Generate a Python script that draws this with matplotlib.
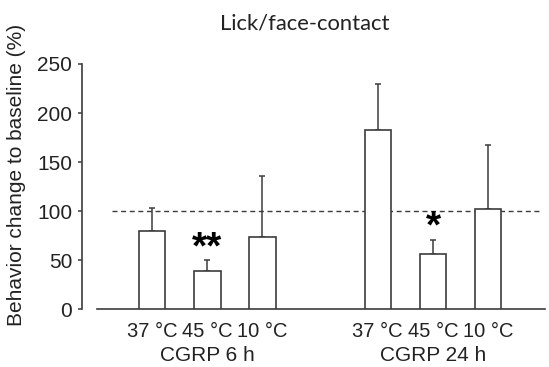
import matplotlib
matplotlib.use("Agg")
import matplotlib.pyplot as plt
import matplotlib.transforms as mtransforms
import numpy as np

plt.rcParams["font.family"] = ["Liberation Sans", "DejaVu Sans"]

# ---- data ----
conditions = ["37 °C", "45 °C", "10 °C", "37 °C", "45 °C", "10 °C"]
groups = ["CGRP 6 h", "CGRP 24 h"]
means = [80.1, 39.4, 73.7, 183.0, 56.7, 102.2]
upper_err = [23.5, 10.6, 62.1, 46.5, 14.0, 65.2]
stars = ["", "**", "", "", "*", ""]
baseline = 100
yticks = [0, 50, 100, 150, 200, 250]
title = "Lick/face-contact"
ylabel = "Behavior change to baseline (%)"

# ---- layout ----
W, H = 549, 367
fig = plt.figure(figsize=(W / 100, H / 100), dpi=100)
ax = fig.add_axes([82 / W, (H - 309.4) / H, (545 - 82) / W, (309.4 - 64.0) / H])

pos = np.array([0, 1, 2, 4.09, 5.09, 6.09])
line_c = "#3c3c3c"
txt_c = "#222222"

ax.plot([-0.72, 7.03], [baseline, baseline], color=line_c, lw=1.0,
        dashes=(3.6, 2.6), zorder=1)

ax.errorbar(pos, means, yerr=[np.zeros(len(means)), upper_err], fmt="none",
            ecolor=line_c, elinewidth=1.1, capsize=2.2, capthick=1.1, zorder=2)
ax.bar(pos, means, width=0.48, facecolor="white", edgecolor=line_c,
       linewidth=1.2, zorder=3)

for p, m, e, s in zip(pos, means, upper_err, stars):
    if s:
        ax.annotate(s, xy=(p, m + e), xytext=(0, 1.5), textcoords="offset points",
                    ha="center", va="baseline", fontsize=28, fontweight="bold",
                    color="black", zorder=4)

ax.set_xlim(-1.27, 7.12)
ax.set_ylim(0, 250)
ax.set_yticks(yticks)
ax.set_yticklabels([str(t) for t in yticks], fontsize=15, color=txt_c)
ax.tick_params(axis="y", direction="out", length=3, width=1.1, color=line_c, pad=4)
ax.set_xticks(pos)
ax.set_xticklabels(conditions, fontsize=14.5, color=txt_c)
ax.tick_params(axis="x", length=0, pad=9)

for side in ["top", "right"]:
    ax.spines[side].set_visible(False)
ax.spines["left"].set_color(line_c)
ax.spines["left"].set_linewidth(1.2)
ax.spines["left"].set_bounds(0, 250)
ax.spines["bottom"].set_color(line_c)
ax.spines["bottom"].set_linewidth(1.2)
ax.spines["bottom"].set_bounds(-1.0, 7.12)

trans = mtransforms.blended_transform_factory(ax.transData, fig.transFigure)
for gi, g in enumerate(groups):
    cx = pos[gi * 3 + 1]
    ax.text(cx, (H - 355.5) / H, g, transform=trans, ha="center", va="center",
            fontsize=15, color=txt_c)

fig.text(17 / W, (H - 175) / H, ylabel, rotation=90, ha="center", va="center",
         fontsize=15, color=txt_c)
fig.text(305 / W, (H - 24) / H, title, ha="center", va="center",
         fontsize=15.8, family="Lato", color=txt_c)

fig.savefig("out.png", dpi=100, facecolor="white")
